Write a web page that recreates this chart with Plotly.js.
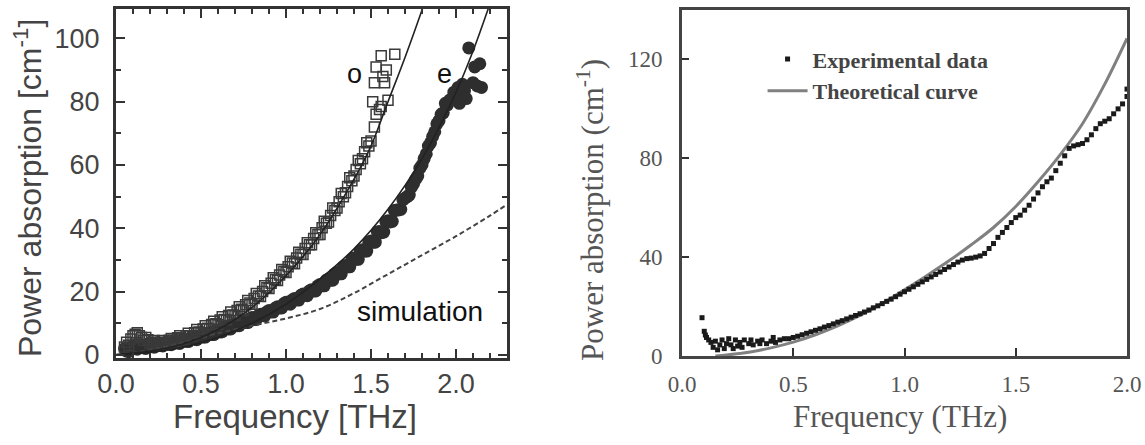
<!DOCTYPE html>
<html>
<head>
<meta charset="utf-8">
<script src="https://cdn.plot.ly/plotly-3.0.1.min.js"></script>
<style>html,body{margin:0;padding:0;background:#fff;}#chart{width:1145px;height:445px;}</style>
</head>
<body>
<div id="chart"></div>
<script>
// ---------- Left panel data ----------
const oFreq = [0.050,0.075,0.100,0.125,0.150,0.175,0.200,0.225,0.250,0.275,0.300,0.325,0.350,0.375,0.400,0.425,0.450,0.475,0.500,0.525,0.550,0.575,0.600,0.625,0.650,0.675,0.700,0.725,0.750,0.775,0.800,0.825,0.850,0.875,0.900,0.925,0.950,0.975,1.000,1.025,1.050,1.075,1.100,1.125,1.150,1.175,1.200,1.225,1.250,1.275,1.300,1.325,1.350,1.375,1.400,1.425,1.450,1.475,1.500,1.520,1.530,1.550,1.510,1.600,1.560,1.520,1.580,1.530,1.590,1.560,1.640,1.570,
  0.0625,0.0875,0.1125,0.1375,0.1625,0.1875,0.2125,0.2375,0.2625,0.2875,0.3125,0.3375,0.3625,0.3875,0.4125,0.4375,0.4625,0.4875,0.5125,0.5375,0.5625,0.5875,0.6125,0.6375,0.6625,0.6875,0.7125,0.7375,0.7625,0.7875,0.8125,0.8375,0.8625,0.8875,0.9125,0.9375,0.9625,0.9875,1.0125,1.0375,1.0625,1.0875,1.1125,1.1375,1.1625,1.1875,1.2125,1.2375,1.2625,1.2875,1.3125,1.3375,1.3625,1.3875,1.4125,1.4375,1.4625,1.4875];
const oAbs  = [2.5,3.0,6.0,7.0,5.5,5.5,3.5,4.5,3.0,4.5,3.5,5.2,4.2,6.0,4.8,6.8,5.8,8.0,7.0,9.2,8.2,10.6,9.5,12.0,11.0,13.5,12.4,15.2,14.0,17.2,16.0,19.4,18.4,21.8,21.0,24.4,23.5,27.0,26.0,29.6,28.8,32.4,31.7,35.4,34.8,38.6,38.0,42.2,42.0,46.4,46.4,51.0,51.2,56.0,56.5,61.4,62.0,67.0,67.6,72.0,76.0,77.5,80.0,80.5,78.5,86.0,86.0,91.0,90.0,94.5,95.0,88.0,
  4.0,5.0,6.5,6.0,4.5,4.8,4.0,3.8,4.0,3.8,4.6,4.6,5.4,5.2,6.0,6.0,7.0,7.2,8.2,8.4,9.6,9.8,11.0,11.2,12.4,12.6,14.0,14.4,15.8,16.4,17.8,18.6,20.0,21.2,22.6,23.8,25.2,26.4,27.8,29.0,30.6,31.8,33.6,34.8,36.8,38.0,40.2,41.6,44.0,45.6,48.4,50.0,53.2,55.0,58.6,60.4,64.2,66.0];

const eFreq = [0.050,0.075,0.100,0.125,0.150,0.175,0.200,0.225,0.250,0.275,0.300,0.325,0.350,0.375,0.400,0.425,0.450,0.475,0.500,0.525,0.550,0.575,0.600,0.625,0.650,0.675,0.700,0.725,0.750,0.775,0.800,0.825,0.850,0.875,0.900,0.925,0.950,0.975,1.000,1.025,1.050,1.075,1.100,1.125,1.150,1.175,1.200,1.225,1.250,1.275,1.300,1.325,1.350,1.375,1.400,1.425,1.450,1.475,1.500,1.525,1.550,1.575,1.600,1.625,1.650,1.675,1.700,1.725,1.750,1.775,1.800,1.825,1.850,1.875,1.900,1.925,1.950,1.975,2.000,2.025,2.050,2.075,2.100,2.110,2.125,2.140,2.150,2.060,2.020,
  0.0625,0.0875,0.1125,0.1375,0.1625,0.1875,0.2125,0.2375,0.2625,0.2875,0.3125,0.3375,0.3625,0.3875,0.4125,0.4375,0.4625,0.4875,0.5125,0.5375,0.5625,0.5875,0.6125,0.6375,0.6625,0.6875,0.7125,0.7375,0.7625,0.7875,0.8125,0.8375,0.8625,0.8875,0.9125,0.9375,0.9625,0.9875,1.0125,1.0375,1.0625,1.0875,1.1125,1.1375,1.1625,1.1875,1.2125,1.2375,1.2625,1.2875,1.3125,1.3375,1.3625,1.3875,1.4125,1.4375,1.4625,1.4875,1.5125,1.5375,1.5625,1.5875,1.6125,1.6375,1.6625,1.6875,1.7125,1.7375,1.7625,1.7875,1.8125,1.8375,1.8625,1.8875,1.9125,1.9375,1.9625,1.9875,2.0125,2.0375];
const eAbs  = [2.0,1.0,2.8,1.8,3.2,2.0,3.4,2.4,3.8,2.8,4.0,3.2,4.5,3.6,5.0,4.2,5.6,4.8,6.2,5.6,7.0,6.4,7.9,7.3,8.8,8.2,9.8,9.2,10.8,10.2,11.8,11.2,12.8,12.3,14.0,13.5,15.2,14.8,16.6,16.0,17.8,17.3,19.2,18.7,20.6,20.2,22.2,21.8,24.0,23.6,26.0,25.6,28.2,27.8,30.6,30.2,33.2,32.8,36.0,35.6,39.0,38.8,42.4,42.2,45.8,46.0,49.5,50.5,54.0,56.5,60.0,63.5,67.0,70.5,74.0,76.5,79.0,81.0,82.5,84.0,83.5,97.0,86.0,91.0,85.0,92.0,84.5,81.0,79.5,
  1.2,2.4,2.0,2.8,2.2,3.0,2.6,3.4,3.0,3.8,3.4,4.2,3.8,4.6,4.4,5.2,5.0,5.8,5.6,6.6,6.4,7.4,7.2,8.4,8.2,9.4,9.2,10.4,10.2,11.4,11.2,12.4,12.4,13.6,13.6,14.8,14.8,16.2,16.2,17.4,17.4,18.8,18.8,20.2,20.2,21.8,21.8,23.6,23.6,25.6,25.6,27.8,27.8,30.2,30.2,32.8,32.8,35.6,35.6,38.8,38.6,42.0,42.0,45.6,45.8,49.0,50.0,53.0,55.5,59.0,62.0,66.0,69.0,73.0,76.0,79.5,80.5,83.0,84.5,85.5];

const oFitFreq = [0,0.2,0.4,0.6,0.8,1.0,1.2,1.4,1.5,1.6,1.7,1.8,1.85];
const oFitAbs  = [0,1.2,3.5,8,15,25,38,55.5,66,80,94,109,117];

const eFitFreq = [0,0.2,0.4,0.6,0.8,1.0,1.2,1.4,1.6,1.8,2.0,2.1,2.2,2.25];
const eFitAbs  = [0,0.8,2.5,5.5,10,16,24,33.5,46,62,83,96,111,119];

const simFreq = [0,0.2,0.4,0.6,0.8,1.0,1.2,1.4,1.6,1.8,2.0,2.2,2.3];
const simAbs  = [0,1.5,4,6.8,9.2,11.5,14.5,19.5,25.5,31.5,37.5,44,47.5];

// ---------- Right panel data ----------
const expFreq = [0.090,0.100,0.105,0.110,0.120,0.130,0.140,0.150,0.160,0.170,0.180,0.190,0.200,0.210,0.220,0.230,0.240,0.250,0.260,0.270,0.280,0.300,0.310,0.320,0.340,0.350,0.360,0.380,0.400,0.410,0.420,0.440,0.460,0.480,0.500,0.520,0.540,0.560,0.580,0.600,0.620,0.640,0.660,0.680,0.700,0.720,0.740,0.760,0.780,0.800,0.820,0.840,0.860,0.880,0.900,0.920,0.940,0.960,0.980,1.000,1.020,1.040,1.060,1.080,1.100,1.120,1.140,1.160,1.180,1.200,1.220,1.240,1.260,1.280,1.300,1.320,1.340,1.360,1.380,1.400,1.420,1.440,1.460,1.480,1.500,1.520,1.540,1.560,1.580,1.600,1.620,1.640,1.660,1.680,1.700,1.720,1.740,1.760,1.780,1.800,1.820,1.840,1.860,1.880,1.900,1.920,1.940,1.960,1.980,2.000,2.000];
const expAbs  = [15.5,10.0,8.5,7.5,6.5,5.5,3.5,6.0,2.5,4.5,6.5,3.0,5.0,7.0,4.5,3.0,6.5,4.0,5.5,3.5,6.5,5.0,6.5,4.5,6.0,5.0,6.5,5.0,6.0,7.5,5.5,6.5,7.0,7.0,7.5,8.0,8.6,9.2,9.8,10.4,11.0,11.7,12.3,13.0,13.7,14.3,15.0,15.7,16.4,17.1,17.8,18.6,19.5,20.3,21.2,22.1,23.0,24.0,25.0,26.0,27.0,28.0,29.0,30.0,31.0,32.0,33.0,34.0,35.0,36.0,37.0,38.0,38.8,39.4,39.6,40.0,40.5,41.5,43.5,45.5,48.0,50.0,52.0,54.0,56.0,57.0,59.0,61.0,63.5,66.0,68.5,70.5,72.0,75.0,78.0,81.0,84.0,85.0,85.5,86.0,87.5,89.5,92.0,94.0,95.0,96.0,98.0,100.0,102.0,105.0,108.0];

const theoFreq = [0.15,0.2,0.3,0.4,0.5,0.6,0.7,0.8,0.9,1.0,1.1,1.2,1.3,1.4,1.5,1.6,1.7,1.8,1.9,2.0];
const theoAbs  = [0,0.4,1.5,3.3,5.6,8.6,12.2,16.4,21.3,26.8,32.5,38.5,45,52,60.5,70.5,81.5,94,110,128.5];

// ---------- Traces ----------
const traces = [
  {x:eFreq, y:eAbs, type:'scatter', mode:'markers', xaxis:'x', yaxis:'y', showlegend:false,
   marker:{symbol:'circle', size:13, color:'#2e2e2e'}},
  {x:oFreq, y:oAbs, type:'scatter', mode:'markers', xaxis:'x', yaxis:'y', showlegend:false,
   marker:{symbol:'square-open', size:10, color:'#3a3a3a', line:{width:1.5, color:'#3a3a3a'}}},
  {x:simFreq, y:simAbs, type:'scatter', mode:'lines', xaxis:'x', yaxis:'y', showlegend:false,
   line:{color:'#444', width:2, dash:'5px,3px', shape:'spline'}},
  {x:oFitFreq, y:oFitAbs, type:'scatter', mode:'lines', xaxis:'x', yaxis:'y', showlegend:false,
   line:{color:'#222', width:1.6, shape:'spline'}},
  {x:eFitFreq, y:eFitAbs, type:'scatter', mode:'lines', xaxis:'x', yaxis:'y', showlegend:false,
   line:{color:'#222', width:1.6, shape:'spline'}},
  {x:theoFreq, y:theoAbs, type:'scatter', mode:'lines', xaxis:'x2', yaxis:'y2', name:'Theoretical curve', legendrank:2,
   line:{color:'#808080', width:3, shape:'spline'}},
  {x:expFreq, y:expAbs, type:'scatter', mode:'markers', xaxis:'x2', yaxis:'y2', name:'Experimental data', legendrank:1,
   marker:{symbol:'square', size:5, color:'#1a1a1a'}}
];

const sansTick = {family:'Liberation Sans, Arial, sans-serif', size:27, color:'#444'};
const serifTick = {family:'Liberation Serif, Times New Roman, serif', size:23, color:'#555'};

const layout = {
  width:1145, height:445,
  margin:{l:0, r:0, t:0, b:0},
  paper_bgcolor:'#ffffff', plot_bgcolor:'#ffffff',
  showlegend:true,
  legend:{x:0.666, y:0.914, xanchor:'left', yanchor:'top', bgcolor:'rgba(0,0,0,0)',
          font:{family:'Liberation Serif, Times New Roman, serif', size:22, color:'#444', weight:'bold'},
          itemwidth:40, tracegroupgap:0},
  xaxis:{domain:[116/1145, 507/1145], range:[0,2.3], dtick:0.5, tick0:0, tickformat:'.1f',
         ticks:'inside', ticklen:9, tickwidth:2, tickcolor:'#333',
         minor:{dtick:0.1, tick0:0, ticks:'inside', ticklen:5, tickwidth:2, tickcolor:'#333', showgrid:false},
         showline:true, linewidth:3, linecolor:'#333', mirror:'allticks',
         showgrid:false, zeroline:false, tickfont:sansTick, anchor:'y', ticklabelstandoff:0},
  yaxis:{domain:[1-358/445, 1-9/445], range:[-1,109.3], dtick:20, tick0:0,
         ticks:'inside', ticklen:9, tickwidth:2, tickcolor:'#333',
         minor:{dtick:10, tick0:0, ticks:'inside', ticklen:5, tickwidth:2, tickcolor:'#333', showgrid:false},
         showline:true, linewidth:3, linecolor:'#333', mirror:'allticks',
         showgrid:false, zeroline:false, tickfont:sansTick, anchor:'x', ticklabelstandoff:8},
  xaxis2:{domain:[682/1145, 1127/1145], range:[0,2.0], dtick:0.5, tick0:0, tickformat:'.1f',
          ticks:'inside', ticklen:8, tickwidth:2, tickcolor:'#333',
          showline:true, linewidth:3, linecolor:'#444', mirror:true,
          showgrid:false, zeroline:false, tickfont:serifTick, anchor:'y2', ticklabelstandoff:5},
  yaxis2:{domain:[1-356/445, 1-10/445], range:[0,140], dtick:40, tick0:0,
          ticks:'inside', ticklen:7, tickwidth:2, tickcolor:'#333',
          showline:true, linewidth:3, linecolor:'#444', mirror:true,
          showgrid:false, zeroline:false, tickfont:serifTick, anchor:'x2', ticklabelstandoff:12},
  annotations:[
    {xref:'paper', yref:'paper', x:28/1145, y:1-188/445, xanchor:'center', yanchor:'middle',
     text:'Power absorption [cm<sup>-1</sup>]', textangle:-90,
     showarrow:false, font:{family:'Liberation Sans, Arial, sans-serif', size:32, color:'#444'}},
    {xref:'paper', yref:'paper', x:295/1145, y:1-416/445, xanchor:'center', yanchor:'middle',
     text:'Frequency [THz]',
     showarrow:false, font:{family:'Liberation Sans, Arial, sans-serif', size:33, color:'#444'}},
    {xref:'x', yref:'y', x:1.40, y:88.6, xanchor:'center', yanchor:'middle', text:'o', showarrow:false,
     font:{family:'Liberation Sans, Arial, sans-serif', size:27, color:'#111'}},
    {xref:'x', yref:'y', x:1.935, y:88.6, xanchor:'center', yanchor:'middle', text:'e', showarrow:false,
     font:{family:'Liberation Sans, Arial, sans-serif', size:27, color:'#111'}},
    {xref:'x', yref:'y', x:1.79, y:13.6, xanchor:'center', yanchor:'middle', text:'simulation', showarrow:false,
     font:{family:'Liberation Sans, Arial, sans-serif', size:28, color:'#111'}},
    {xref:'paper', yref:'paper', x:590/1145, y:1-210/445, xanchor:'center', yanchor:'middle',
     text:'Power absorption (cm<sup>-1</sup>)', textangle:-90,
     showarrow:false, font:{family:'Liberation Serif, Times New Roman, serif', size:31, color:'#555'}},
    {xref:'paper', yref:'paper', x:900/1145, y:1-416/445, xanchor:'center', yanchor:'middle',
     text:'Frequency (THz)',
     showarrow:false, font:{family:'Liberation Serif, Times New Roman, serif', size:31, color:'#555'}}
  ]
};

Plotly.newPlot('chart', traces, layout, {staticPlot:true, displayModeBar:false});
</script>
</body>
</html>
